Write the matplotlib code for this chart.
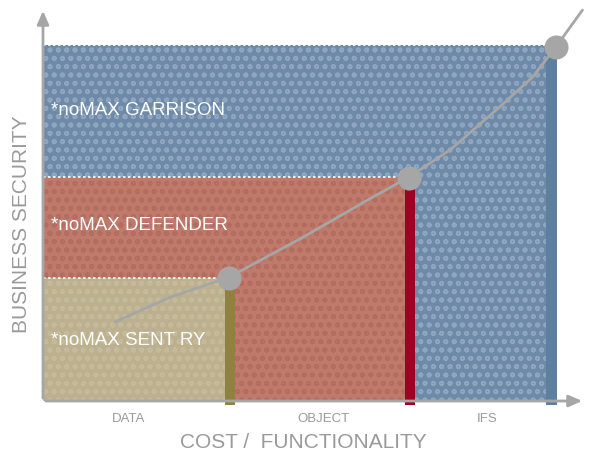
import matplotlib.pyplot as plt
from matplotlib.patches import Rectangle

plt.rcParams['font.family'] = ['Liberation Sans', 'DejaVu Sans']
plt.rcParams['hatch.linewidth'] = 1.2

# tiers, innermost first
tier_names = ["*noMAX SENT RY", "*noMAX DEFENDER", "*noMAX GARRISON"]
tier_cost = [3.74, 7.24, 10.0]       # right edge of each tier on the cost axis
tier_security = [3.46, 6.29, 10.0]   # top edge of each tier
tier_colors = ["#bcb08f", "#bf7a6b", "#6f8aa8"]
tier_dots = ["#c5ba9b", "#b46c60", "#8ea6c0"]
bar_colors = ["#8f8240", "#9c0322", "#5f7f9f"]
label_y = [1.69, 4.94, 8.17]

categories = ["DATA", "OBJECT", "IFS"]
category_pos = [1.66, 5.45, 8.65]

# points where the trend curve meets each tier
point_x = [3.62, 7.12, 9.98]
point_y = [3.46, 6.26, 9.94]

# trend curve
curve_x = [1.40, 2.45, 3.62, 5.0, 6.3, 7.12, 7.92, 8.89, 9.53, 9.98, 10.5]
curve_y = [2.22, 2.9, 3.48, 4.55, 5.63, 6.29, 7.05, 8.26, 9.1, 9.94, 10.98]

fig = plt.figure(figsize=(5.95, 4.57), dpi=100)
ax = fig.add_axes([43 / 595, 56 / 457, 542 / 595, 393 / 457])
ax.set_xlim(0, 10.55)
ax.set_ylim(0, 11.04)
ax.axis('off')

# rectangles, outermost first
for i in [2, 1, 0]:
    ax.add_patch(Rectangle((0, 0), tier_cost[i], tier_security[i],
                           facecolor=tier_colors[i], edgecolor='none', zorder=1 + (2 - i)))
    ax.add_patch(Rectangle((0, 0), tier_cost[i], tier_security[i],
                           facecolor='none', edgecolor=tier_dots[i], hatch='oo',
                           linewidth=0, zorder=1 + (2 - i)))
    ax.plot([0, tier_cost[i]], [tier_security[i], tier_security[i]], color='white',
            lw=1.2, ls=(0, (1.5, 1.5)), zorder=5)
    ax.text(0.16, label_y[i], tier_names[i], color='white', fontsize=13.5,
            va='center', zorder=6)

# vertical bars at the tier edges
for i in range(3):
    w = 0.2
    ax.add_patch(Rectangle((tier_cost[i] - w, -0.1), w, point_y[i] + 0.1,
                           facecolor=bar_colors[i], edgecolor='none', zorder=4, clip_on=False))

# axes with arrows
grey = '#a6a6a6'
ax.annotate('', xy=(10.55, 0), xytext=(0, 0),
            arrowprops=dict(arrowstyle='-|>,head_length=0.8,head_width=0.35', color=grey, lw=2),
            zorder=7, annotation_clip=False)
ax.annotate('', xy=(0, 11.04), xytext=(0, 0),
            arrowprops=dict(arrowstyle='-|>,head_length=0.8,head_width=0.35', color=grey, lw=2),
            zorder=7, annotation_clip=False)

# trend curve and points
ax.plot(curve_x, curve_y, color=grey, lw=2, zorder=8, clip_on=False,
        solid_capstyle='round')
ax.scatter(point_x, point_y, s=300, color=grey, zorder=9, clip_on=False, linewidths=0)

for c, x in zip(categories, category_pos):
    ax.text(x, -0.5, c, color='#9a9a9a', fontsize=9.5, ha='center', va='center')

fig.text(303 / 595, 1 - 443 / 457, "COST /  FUNCTIONALITY", color='#9a9a9a',
         fontsize=15, ha='center', va='center')
fig.text(22 / 595, 1 - 224 / 457, "BUSINESS SECURITY", color='#9a9a9a',
         fontsize=15, ha='center', va='center', rotation=90)

fig.savefig('out.png', dpi=100)
